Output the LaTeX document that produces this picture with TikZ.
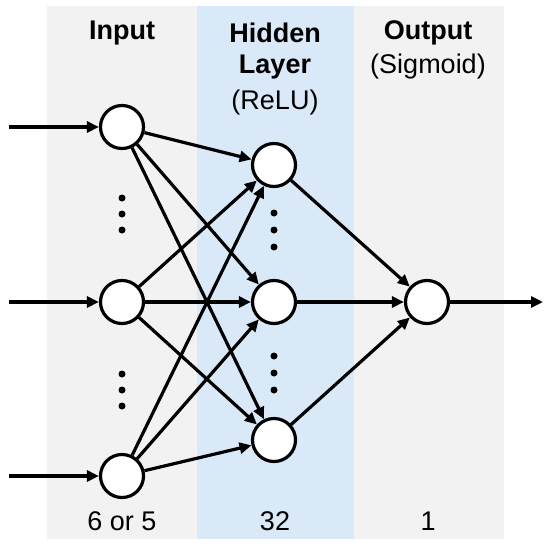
\documentclass[tikz,border=0pt]{standalone}
\usepackage{fontspec}
\setmainfont{Liberation Sans}
\usetikzlibrary{arrows.meta}
\definecolor{panelgray}{HTML}{F2F2F2}
\definecolor{panelblue}{HTML}{DAE9F7}
\tikzset{
  neuron/.style={circle,draw,line width=1.6pt,fill=white,minimum size=21.5pt,inner sep=0pt},
  conn/.style={line width=1.6pt,-{Triangle[length=6pt,width=5.5pt]}},
  title/.style={font=\fontsize{13.5}{16}\selectfont\bfseries},
  sub/.style={font=\fontsize{13.5}{16}\selectfont},
  vdot/.style={fill=black}
}
\begin{document}
\begin{tikzpicture}[x=0.5pt,y=-0.5pt]
  \useasboundingbox (0,0) rectangle (550,546);
  % panels
  \fill[panelgray] (47,6) rectangle (504,539);
  \fill[panelblue] (197,6) rectangle (354,539);
  % titles
  \node[title] (tin) at (122,33) {Input};
  \node[title] (thid) at (275,33) {Hidden};
  \node[title] (tlay) at (275,67) {Layer};
  \node[sub] (trelu) at (275,103) {(ReLU)};
  \node[title] (tout) at (428,33) {Output};
  \node[sub] (tsig) at (428,67) {(Sigmoid)};
  % sizes
  \node[sub] (nin) at (122,521) {6 or 5};
  \node[sub] (nhid) at (275,521) {32};
  \node[sub] (nout) at (428,521) {1};
  % neurons
  \node[neuron] (in1) at (122,127) {};
  \node[neuron] (in2) at (122,302) {};
  \node[neuron] (in3) at (122,476) {};
  \node[neuron] (h1) at (274,165) {};
  \node[neuron] (h2) at (274,302) {};
  \node[neuron] (h3) at (274,440) {};
  \node[neuron] (o) at (427,302) {};
  % free ends
  \coordinate (x1) at (9,127);
  \coordinate (x2) at (9,302);
  \coordinate (x3) at (9,476);
  \coordinate (y) at (543,302);
  % dots
  \foreach \d in {198,214,230,374,390,406}
    \fill[vdot] (122,\d) circle (1.75pt);
  \foreach \d in {213,230,247,356,373,390}
    \fill[vdot] (274,\d) circle (1.75pt);
  % connections
  \foreach \i in {1,2,3} {
    \draw[conn] (x\i) -- (in\i);
    \foreach \j in {1,2,3}
      \draw[conn] (in\i) -- (h\j);
    \draw[conn] (h\i) -- (o);
  }
  \draw[conn] (o) -- (y);
\end{tikzpicture}
\end{document}
